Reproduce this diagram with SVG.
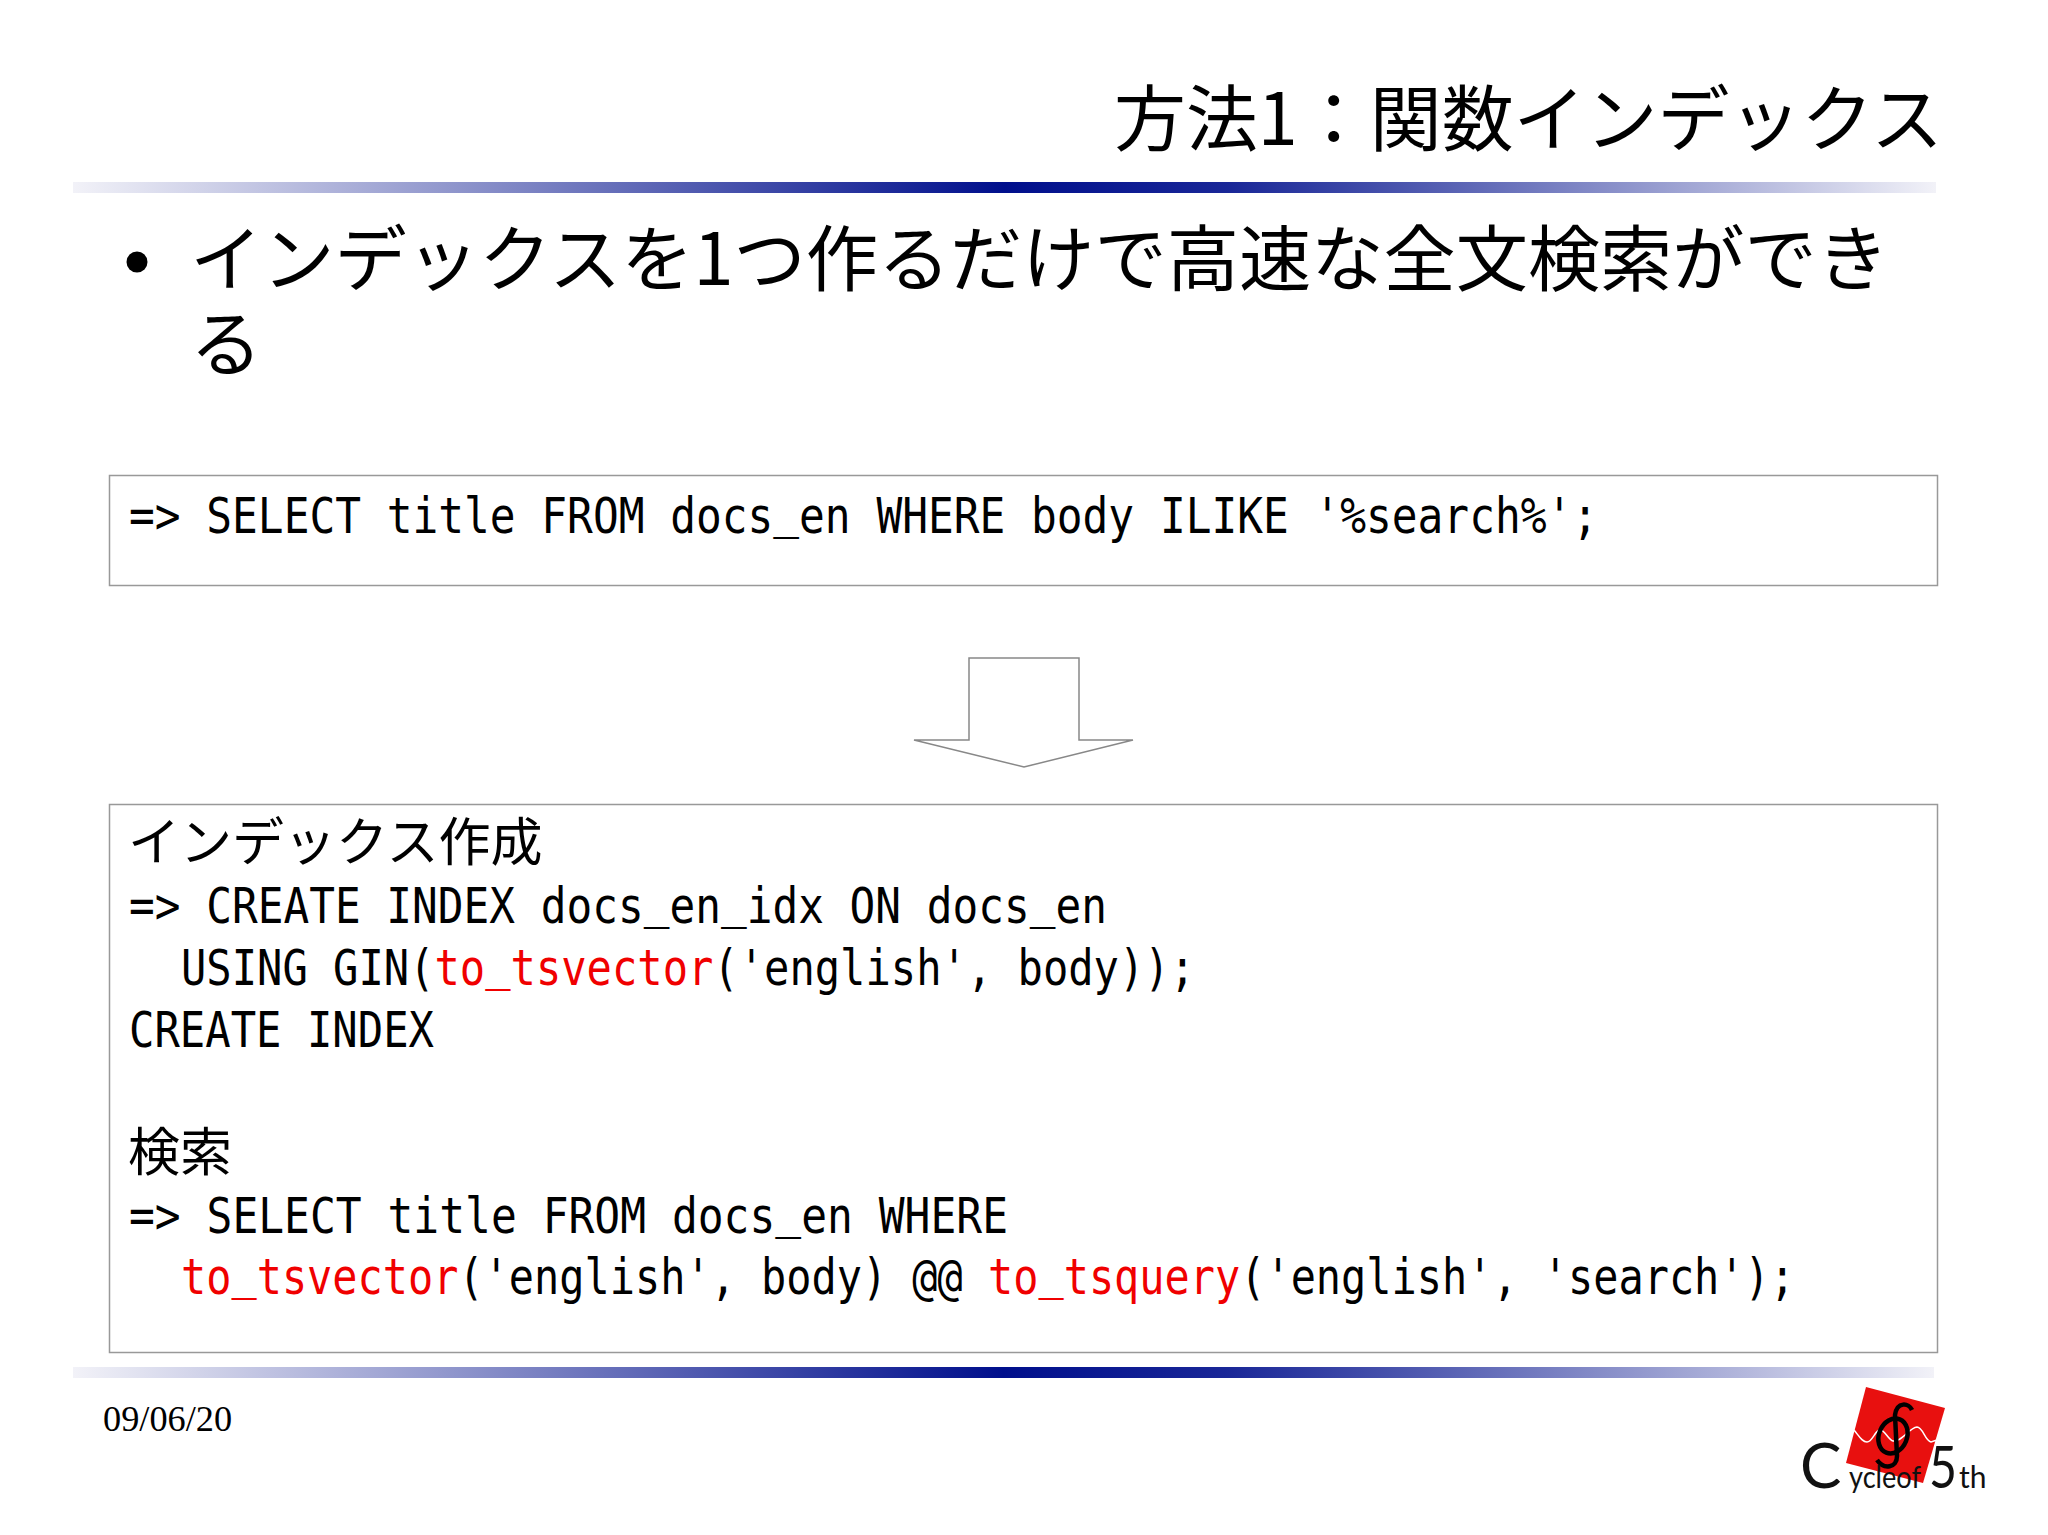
<svg xmlns="http://www.w3.org/2000/svg" width="2048" height="1535" viewBox="0 0 2048 1535">
<defs>
<linearGradient id="bar" x1="0" y1="0" x2="1" y2="0">
<stop offset="0" stop-color="#f2f2f8"/><stop offset="0.5" stop-color="#000f8c"/><stop offset="0.62" stop-color="#000f8c" stop-opacity="0.9"/><stop offset="1" stop-color="#f2f2f8"/>
</linearGradient>
</defs>
<style>
.jp{font-family:"Noto Sans CJK JP","Liberation Sans",sans-serif;fill:#000;font-weight:400}
.m{font-family:"DejaVu Sans Mono","Noto Sans CJK JP",monospace;font-size:49px;fill:#000}
.r{fill:#f00000}
.box{fill:#fff;stroke:#999;stroke-width:1.5}
.logo{font-family:"Lato","Liberation Sans",sans-serif;fill:#111;font-weight:400}
</style>
<rect width="2048" height="1535" fill="#fff"/>
<g id="title">
<text class="jp" x="1114" y="145" font-size="72" textLength="829" lengthAdjust="spacingAndGlyphs">方法1：関数インデックス</text>
<rect x="73" y="182" width="1863" height="11" fill="url(#bar)"/>
</g>
<g id="bullet">
<circle cx="137" cy="262" r="10.500" fill="#000"/>
<text class="jp" x="190" y="285" font-size="72" textLength="1699" lengthAdjust="spacingAndGlyphs">インデックスを1つ作るだけで高速な全文検索ができ</text>
<text class="jp" x="190" y="370" font-size="72">る</text>
</g>
<g id="query-box">
<rect class="box" x="109.500" y="475.500" width="1828" height="110"/>
<text class="m" x="129" y="533" textLength="1469" lengthAdjust="spacingAndGlyphs">=&gt; SELECT title FROM docs<tspan dy="-6">_</tspan><tspan dy="6">en</tspan> WHERE body ILIKE '%search%';</text>
</g>
<g id="arrow">
<polygon points="969,658 1079,658 1079,740 1133,740 1024,767 914,740 969,740" fill="#fff" stroke="#888" stroke-width="1.500"/>
</g>
<g id="index-box">
<rect class="box" x="109.500" y="804.500" width="1828" height="548"/>
<text class="jp" x="128" y="861" font-size="52">インデックス作成</text>
<text class="m" x="129" y="923" textLength="978" lengthAdjust="spacingAndGlyphs">=&gt; CREATE INDEX docs<tspan dy="-6">_</tspan><tspan dy="6">en</tspan><tspan dy="-6">_</tspan><tspan dy="6">idx</tspan> ON docs<tspan dy="-6">_</tspan><tspan dy="6">en</tspan></text>
<text class="m" x="181" y="985" textLength="1014" lengthAdjust="spacingAndGlyphs">USING GIN(<tspan class="r">to<tspan dy="-6">_</tspan><tspan dy="6">tsvector</tspan></tspan>('english', body));</text>
<text class="m" x="129" y="1047" textLength="305" lengthAdjust="spacingAndGlyphs">CREATE INDEX</text>
<text class="jp" x="128" y="1171" font-size="52">検索</text>
<text class="m" x="129" y="1233" textLength="879" lengthAdjust="spacingAndGlyphs">=&gt; SELECT title FROM docs<tspan dy="-6">_</tspan><tspan dy="6">en</tspan> WHERE</text>
<text class="m" x="181" y="1294" textLength="1614" lengthAdjust="spacingAndGlyphs"><tspan class="r">to<tspan dy="-6">_</tspan><tspan dy="6">tsvector</tspan></tspan>('english', body) @@ <tspan class="r">to<tspan dy="-6">_</tspan><tspan dy="6">tsquery</tspan></tspan>('english', 'search');</text>
</g>
<g id="footer">
<rect x="73" y="1367" width="1861" height="11" fill="url(#bar)"/>
<text x="103" y="1431" font-family="Liberation Serif,serif" font-size="36.300" fill="#000">09/06/20</text>
</g>
<g id="logo">
<polygon points="1866,1387 1945,1408 1923,1483 1846,1463" fill="#e8100f"/>
<path d="M1854,1430 C1859,1436 1862,1442 1867,1442 C1872,1442 1874,1433 1879,1430 C1884,1428 1888,1440 1893,1441 C1902,1442 1909,1428 1917,1427 C1923,1427 1925,1441 1931,1442 L1937,1440" fill="none" stroke="#fff" stroke-width="1.500"/>
<ellipse cx="1893" cy="1436" rx="14" ry="18" transform="rotate(22 1893 1436)" fill="none" stroke="#000" stroke-width="4.500"/>
<path d="M1912,1410 C1909,1403 1897,1401 1895,1415 L1897,1456 C1897,1468 1884,1470 1877,1460" fill="none" stroke="#000" stroke-width="4.500"/>
<text class="logo" x="1800" y="1488" font-size="62">C</text>
<text class="logo" x="1849" y="1488" font-size="31" textLength="72" lengthAdjust="spacingAndGlyphs">ycleof</text>
<text class="logo" x="1929" y="1488" font-size="58" textLength="28" lengthAdjust="spacingAndGlyphs">5</text>
<text class="logo" x="1959" y="1488" font-size="30">th</text>
</g>
</svg>
